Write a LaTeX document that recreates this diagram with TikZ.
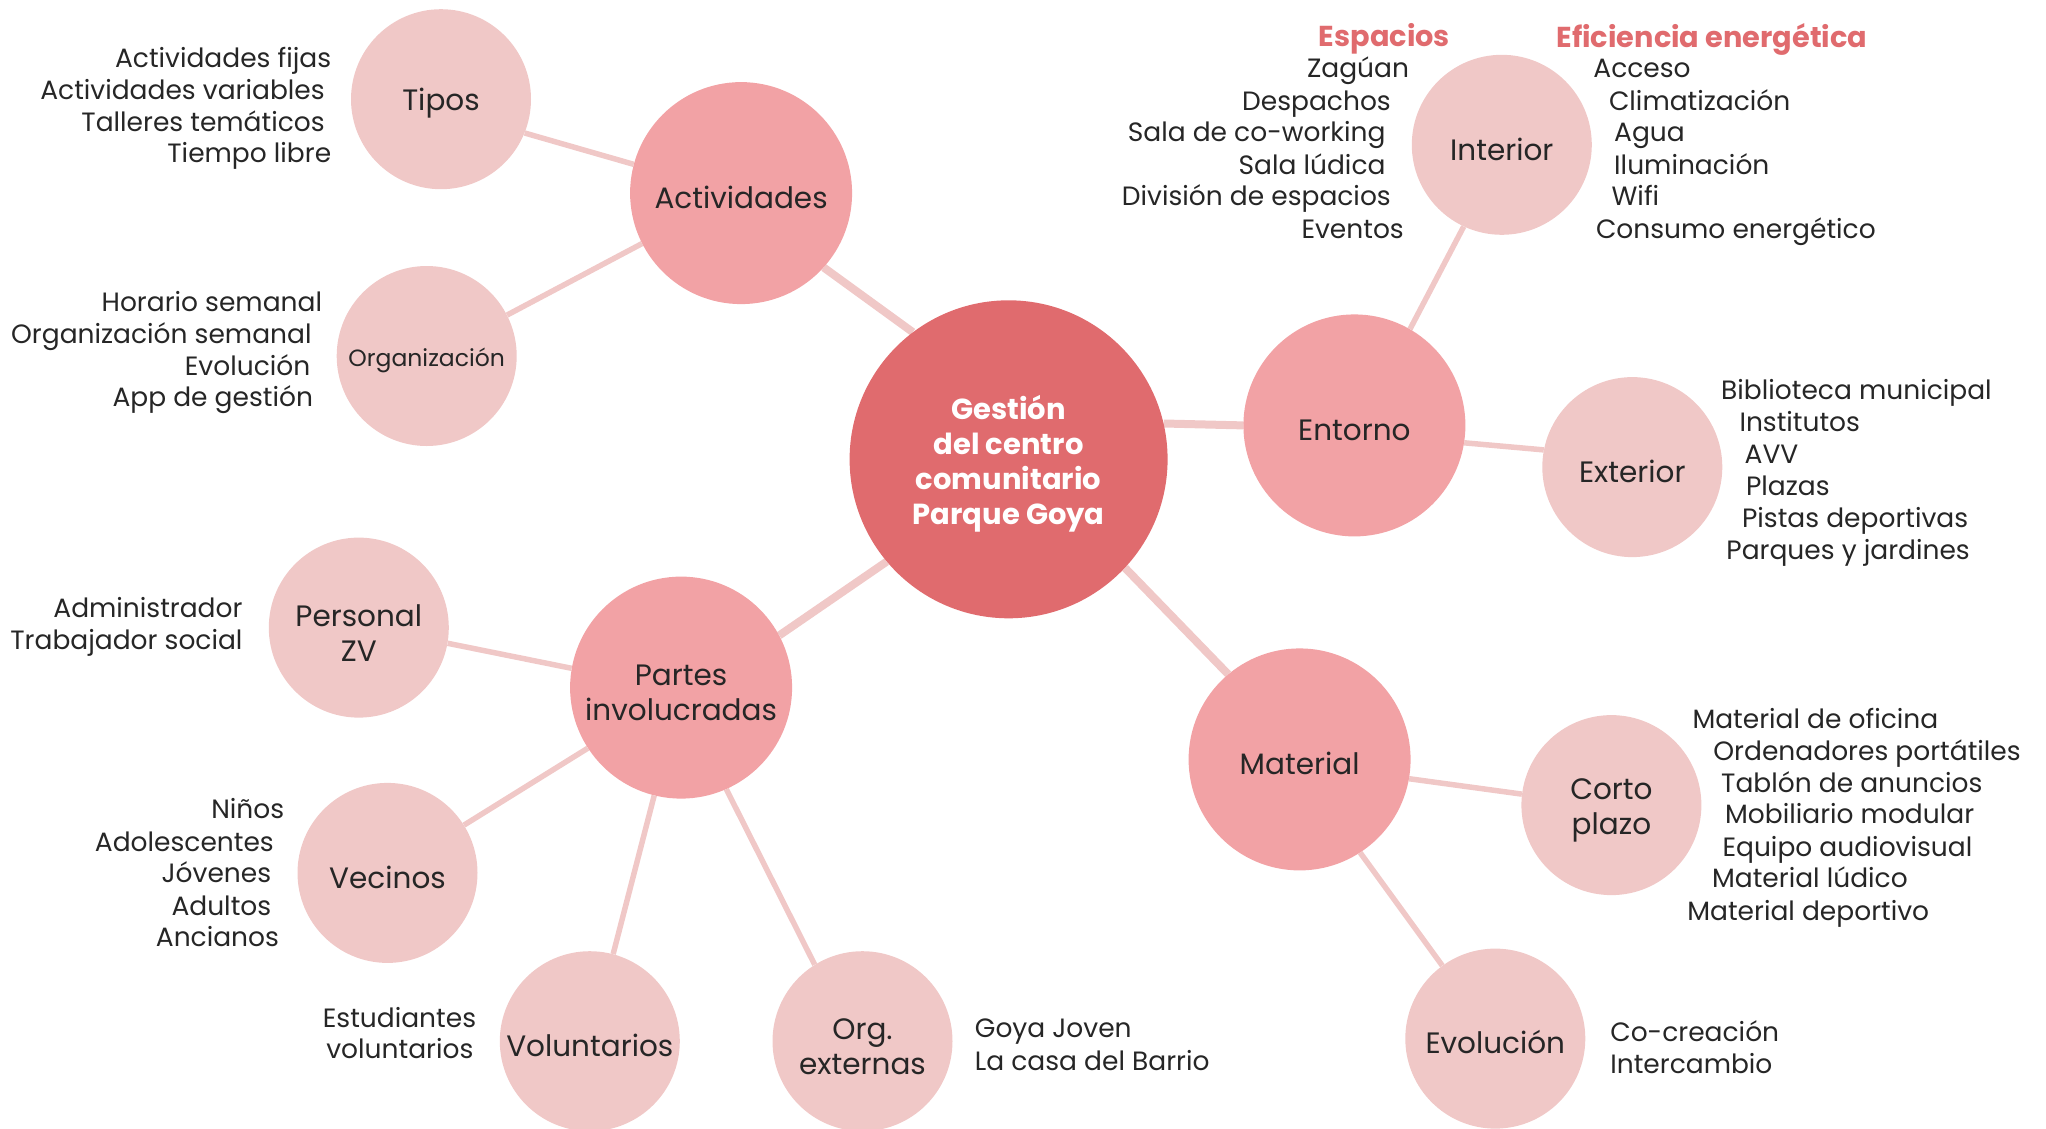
\documentclass[tikz,border=0pt]{standalone}
\usepackage{fontspec}
\setmainfont{Poppins}
\usetikzlibrary{backgrounds}
\definecolor{cRoot}{HTML}{E06B6E}
\definecolor{cMid}{HTML}{F2A2A5}
\definecolor{cLeaf}{HTML}{F0C8C7}
\definecolor{cEdge}{HTML}{F0C8C7}
\definecolor{txt}{HTML}{262626}
\begin{document}
\begin{tikzpicture}[x=1pt,y=-1pt,
  bubble/.style={circle, inner sep=0pt, align=center, text=txt, text height=31pt},
  twoline/.style={text height=67pt},
  root/.style={bubble, fill=cRoot, minimum size=318pt, text=white, text height=138pt, font=\fontsize{29}{35}\selectfont\bfseries},
  midb/.style={bubble, fill=cMid, minimum size=222pt, font=\fontsize{29.5}{35}\selectfont},
  leaf/.style={bubble, fill=cLeaf, minimum size=180pt, font=\fontsize{29.5}{35}\selectfont},
  item/.style={text=txt, inner sep=0pt, yshift=-7pt, font=\fontsize{26.5}{32}\selectfont},
  head/.style={text=cRoot, inner sep=0pt, font=\fontsize{28.8}{32}\selectfont\bfseries},
  mainedge/.style={draw=cEdge, line width=8pt},
  subedge/.style={draw=cEdge, line width=5.5pt}]
\useasboundingbox (0,0) rectangle (2046,1128);
% bubbles
\node[root] (c) at (1008.6,459.3) {Gestión\\del centro\\comunitario\\Parque Goya};
\node[midb] (act) at (741.1,193.1) {Actividades};
\node[leaf] (tipos) at (441.0,99.2) {Tipos};
\node[leaf, text height=27.5pt, font=\fontsize{23.5}{28}\selectfont] (orgz) at (426.7,356) {Organización};
\node[midb] (ent) at (1354.4,425.4) {Entorno};
\node[leaf] (int) at (1501.8,144.8) {Interior};
\node[leaf] (ext) at (1632.3,467.1) {Exterior};
\node[midb] (mat) at (1299.6,759.4) {Material};
\node[leaf, twoline] (corto) at (1611.4,805.1) {Corto\\plazo};
\node[leaf] (evol) at (1495.3,1038.6) {Evolución};
\node[midb, twoline] (partes) at (681.1,687.6) {Partes\\involucradas};
\node[leaf, twoline] (pers) at (358.8,627.6) {Personal\\ZV};
\node[leaf] (vec) at (387.5,872.9) {Vecinos};
\node[leaf] (vol) at (589.8,1041.2) {Voluntarios};
\node[leaf, twoline] (orgx) at (862.5,1041.2) {Org.\\externas};
% connectors
\begin{scope}[on background layer]
\draw[mainedge] (c.127) -- (act.-42);
\draw[mainedge] (c.13) -- (ent.180);
\draw[mainedge] (c.-43) -- (mat.130);
\draw[mainedge] (c.220) -- (partes.28);
\draw[subedge] (act.165) -- (tipos.-22);
\draw[subedge] (act.207) -- (orgz.27);
\draw[subedge] (ent.60) -- (int.245);
\draw[subedge] (ent.-9.5) -- (ext.169);
\draw[subedge] (mat.-10) -- (corto.173);
\draw[subedge] (mat.-57) -- (evol.126);
\draw[subedge] (partes.170.5) -- (pers.-10);
\draw[subedge] (partes.213) -- (vec.32.5);
\draw[subedge] (partes.256.5) -- (vol.75.5);
\draw[subedge] (partes.-66) -- (orgx.122);
\end{scope}
% headings
\node[head] (hEsp) at (1384.4,39) {Espacios};
\node[head] (hEfi) at (1711.9,39) {Eficiencia energética};
% lists, right aligned
\foreach \t/\x/\y [count=\i] in {Actividades fijas/331.4/57.4, Actividades variables/324.9/90, Talleres temáticos/324.9/121.3, Tiempo libre/331.4/152.7}
  \node[item, anchor=mid east] (ti\i) at (\x,\y) {\t};
\foreach \t/\x/\y [count=\i] in {Horario semanal/322.3/301.4, Organización semanal/311.8/334, Evolución/310.5/365.3, App de gestión/313.2/396.7}
  \node[item, anchor=mid east] (oz\i) at (\x,\y) {\t};
\foreach \t/\x/\y [count=\i] in {Zagúan/1409.2/67.8, Despachos/1391/100.5, Sala de co-working/1385.7/131.8, Sala lúdica/1385.7/164.4, División de espacios/1391/195.7, Eventos/1404/228.3}
  \node[item, anchor=mid east] (sp\i) at (\x,\y) {\t};
\foreach \t/\x/\y [count=\i] in {Administrador/242.7/608, Trabajador social/242.7/639.4}
  \node[item, anchor=mid east] (pe\i) at (\x,\y) {\t};
\foreach \t/\x/\y [count=\i] in {Niños/284.4/809, Adolescentes/274/841.6, Jóvenes/271.4/872.9, Adultos/271.4/905.5, Ancianos/279.2/936.8}
  \node[item, anchor=mid east] (ve\i) at (\x,\y) {\t};
\foreach \t/\x/\y [count=\i] in {Estudiantes/476.3/1017.7, voluntarios/473.6/1049}
  \node[item, anchor=mid east] (vo\i) at (\x,\y) {\t};
% lists, left aligned
\foreach \t/\x/\y [count=\i] in {Acceso/1593.2/67.8, Climatización/1608.8/100.5, Agua/1614/131.8, Iluminación/1614/164.4, Wifi/1611.4/195.7, Consumo energético/1595.8/228.3}
  \node[item, anchor=mid west] (ef\i) at (\x,\y) {\t};
\foreach \t/\x/\y [count=\i] in {Biblioteca municipal/1721/390.1, Institutos/1739.3/421.5, AVV/1744.5/454.1, Plazas/1745.8/485.4, Pistas deportivas/1741.9/518, Parques y jardines/1726.2/549.3}
  \node[item, anchor=mid west] (ex\i) at (\x,\y) {\t};
\foreach \t/\x/\y [count=\i] in {Material de oficina/1692.3/719, Ordenadores portátiles/1713.2/750.3, Tablón de anuncios/1721/782.9, Mobiliario modular/1724.9/814.2, Equipo audiovisual/1722.3/846.8, Material lúdico/1711.9/878.1, Material deportivo/1687.1/910.8}
  \node[item, anchor=mid west] (cp\i) at (\x,\y) {\t};
\foreach \t/\x/\y [count=\i] in {Co-creación/1610.1/1032.1, Intercambio/1610.1/1063.4}
  \node[item, anchor=mid west] (ev\i) at (\x,\y) {\t};
\foreach \t/\x/\y [count=\i] in {Goya Joven/974.7/1028.2, La casa del Barrio/974.7/1060.8}
  \node[item, anchor=mid west] (ox\i) at (\x,\y) {\t};
\end{tikzpicture}
\end{document}
